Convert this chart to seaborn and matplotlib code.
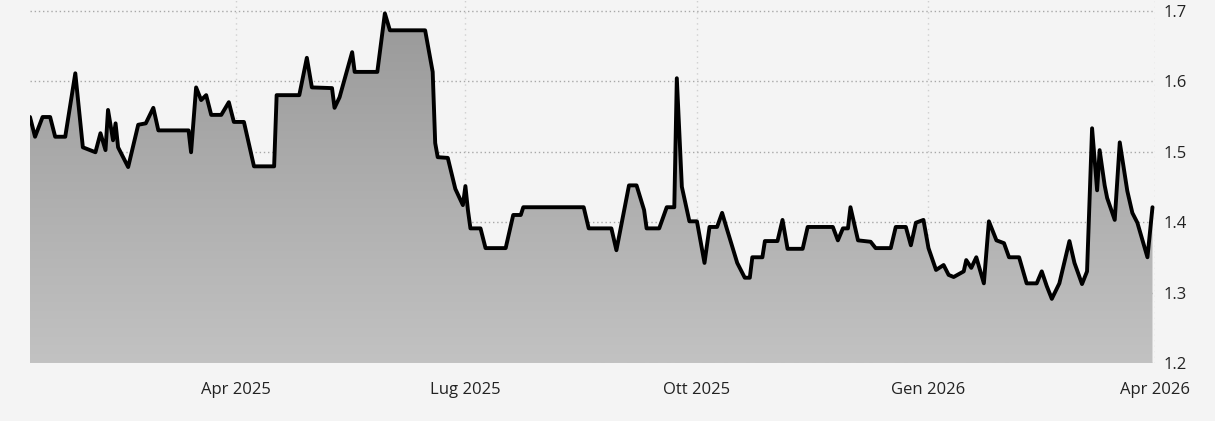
import matplotlib

matplotlib.use("Agg")
import matplotlib.dates as mdates
import matplotlib.pyplot as plt
import numpy as np
import pandas as pd
import seaborn as sns
from matplotlib.colors import LinearSegmentedColormap

# values
DATES = [
    "2025-01-09", "2025-01-11", "2025-01-14", "2025-01-17", "2025-01-19", "2025-01-23",
    "2025-01-27", "2025-01-30", "2025-02-04", "2025-02-06", "2025-02-08", "2025-02-09",
    "2025-02-11", "2025-02-12", "2025-02-13", "2025-02-17", "2025-02-21", "2025-02-24",
    "2025-02-27", "2025-03-01", "2025-03-13", "2025-03-14", "2025-03-16", "2025-03-18",
    "2025-03-20", "2025-03-22", "2025-03-26", "2025-03-29", "2025-03-31", "2025-04-04",
    "2025-04-08", "2025-04-16", "2025-04-17", "2025-04-26", "2025-04-29", "2025-05-01",
    "2025-05-09", "2025-05-10", "2025-05-12", "2025-05-17", "2025-05-18", "2025-05-27",
    "2025-05-30", "2025-06-01", "2025-06-15", "2025-06-18", "2025-06-19", "2025-06-20",
    "2025-06-24", "2025-06-27", "2025-06-30", "2025-07-01", "2025-07-02", "2025-07-03",
    "2025-07-07", "2025-07-09", "2025-07-17", "2025-07-20", "2025-07-23", "2025-07-24",
    "2025-08-17", "2025-08-19", "2025-08-28", "2025-08-30", "2025-09-04", "2025-09-07",
    "2025-09-10", "2025-09-11", "2025-09-16", "2025-09-19", "2025-09-22", "2025-09-23",
    "2025-09-25", "2025-09-28", "2025-10-01", "2025-10-04", "2025-10-06", "2025-10-09",
    "2025-10-11", "2025-10-13", "2025-10-17", "2025-10-20", "2025-10-22", "2025-10-23",
    "2025-10-27", "2025-10-28", "2025-11-02", "2025-11-04", "2025-11-06", "2025-11-12",
    "2025-11-14", "2025-11-24", "2025-11-26", "2025-11-28", "2025-11-30", "2025-12-01",
    "2025-12-04", "2025-12-09", "2025-12-11", "2025-12-17", "2025-12-19", "2025-12-23",
    "2025-12-25", "2025-12-27", "2025-12-30", "2026-01-01", "2026-01-04", "2026-01-07",
    "2026-01-09", "2026-01-11", "2026-01-15", "2026-01-16", "2026-01-18", "2026-01-20",
    "2026-01-23", "2026-01-25", "2026-01-28", "2026-01-31", "2026-02-02", "2026-02-06",
    "2026-02-09", "2026-02-13", "2026-02-15", "2026-02-17", "2026-02-19", "2026-02-22",
    "2026-02-26", "2026-02-28", "2026-03-03", "2026-03-05", "2026-03-07", "2026-03-09",
    "2026-03-10", "2026-03-12", "2026-03-13", "2026-03-16", "2026-03-18", "2026-03-21",
    "2026-03-23", "2026-03-25", "2026-03-29", "2026-03-31",
]
PRICES = [
    1.549, 1.521, 1.549, 1.549, 1.521, 1.521,
    1.611, 1.506, 1.499, 1.526, 1.502, 1.559,
    1.516, 1.540, 1.506, 1.478, 1.538, 1.540,
    1.562, 1.530, 1.530, 1.499, 1.591, 1.573,
    1.580, 1.552, 1.552, 1.570, 1.542, 1.542,
    1.479, 1.479, 1.580, 1.580, 1.633, 1.591,
    1.590, 1.562, 1.577, 1.641, 1.613, 1.613,
    1.696, 1.672, 1.672, 1.613, 1.512, 1.492,
    1.491, 1.447, 1.424, 1.451, 1.417, 1.391,
    1.391, 1.363, 1.363, 1.410, 1.410, 1.421,
    1.421, 1.391, 1.391, 1.360, 1.452, 1.452,
    1.417, 1.391, 1.391, 1.421, 1.421, 1.604,
    1.450, 1.401, 1.401, 1.342, 1.393, 1.393,
    1.413, 1.389, 1.342, 1.321, 1.321, 1.350,
    1.350, 1.373, 1.373, 1.403, 1.362, 1.362,
    1.393, 1.393, 1.374, 1.391, 1.391, 1.421,
    1.374, 1.372, 1.363, 1.363, 1.393, 1.393,
    1.367, 1.399, 1.403, 1.363, 1.332, 1.339,
    1.325, 1.322, 1.330, 1.346, 1.335, 1.350,
    1.313, 1.401, 1.374, 1.370, 1.350, 1.350,
    1.313, 1.313, 1.330, 1.309, 1.291, 1.313,
    1.373, 1.342, 1.312, 1.330, 1.533, 1.445,
    1.502, 1.452, 1.434, 1.403, 1.513, 1.444,
    1.413, 1.399, 1.350, 1.421,
]
TICK_DATES = ["2025-04-01", "2025-07-01", "2025-10-01", "2026-01-01", "2026-04-01"]
TICK_LABELS = ["Apr 2025", "Lug 2025", "Ott 2025", "Gen 2026", "Apr 2026"]
Y_TICKS = [1.2, 1.3, 1.4, 1.5, 1.6, 1.7]

BG = "#f4f4f4"

sns.set_theme(style="white")
plt.rcParams["font.family"] = ["Open Sans", "DejaVu Sans"]

df = pd.DataFrame({"date": pd.to_datetime(DATES), "price": PRICES})

fig = plt.figure(figsize=(12.15, 4.21), dpi=100, facecolor=BG)
ax = fig.add_axes([30 / 1215, 58 / 421, 1125 / 1215, 363 / 421])
ax.set_facecolor(BG)

x0 = pd.Timestamp("2025-01-09")
x1 = pd.Timestamp("2026-04-01")

# gradient area under the line
poly = ax.fill_between(df["date"], df["price"], 1.2, color="none", lw=0)
cmap = LinearSegmentedColormap.from_list("fill", ["#c2c2c2", "#999999"])
grad = np.linspace(0, 1, 256).reshape(-1, 1)
img = ax.imshow(
    grad,
    cmap=cmap,
    aspect="auto",
    origin="lower",
    extent=[mdates.date2num(x0), mdates.date2num(x1), 1.2, 1.7],
    zorder=1,
)
img.set_clip_path(poly.get_paths()[0], transform=ax.transData)

sns.lineplot(data=df, x="date", y="price", color="black", lw=2.8, ax=ax, zorder=3)

ax.set_xlim(x0, x1)
ax.set_ylim(1.2, 1.715)

ax.yaxis.tick_right()
ax.set_yticks(Y_TICKS)
ax.set_yticklabels([f"{v:.1f}" for v in Y_TICKS])
ax.set_xticks(pd.to_datetime(TICK_DATES))
ax.set_xticklabels(TICK_LABELS)
ax.tick_params(axis="y", length=0, pad=6, labelsize=12, colors="#222222")
ax.tick_params(axis="x", length=0, pad=14, labelsize=12, colors="#222222")
ax.set_xlabel("")
ax.set_ylabel("")

ax.grid(axis="y", color="#a8a8a8", lw=1, ls=(0, (1, 2)))
ax.grid(axis="x", color="#cfcfcf", lw=1, ls=(0, (1, 3)))
ax.set_axisbelow(True)
for s in ax.spines.values():
    s.set_visible(False)

fig.savefig("out.png", dpi=100, facecolor=BG)
